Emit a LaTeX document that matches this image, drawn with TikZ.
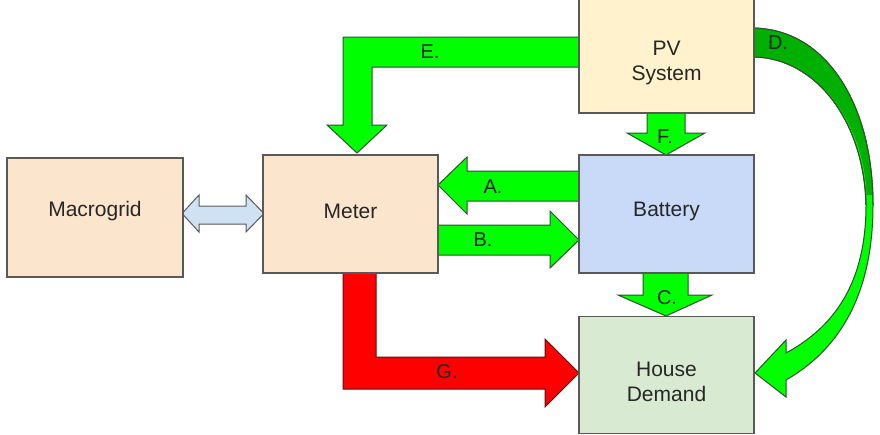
\documentclass[tikz,border=0pt]{standalone}
\usepackage{fontspec}
\setmainfont{Liberation Sans}
\definecolor{peach}{HTML}{FCE5CD}
\definecolor{pvfill}{HTML}{FFF2CC}
\definecolor{batfill}{HTML}{C9DAF8}
\definecolor{housefill}{HTML}{D9EAD3}
\definecolor{boxline}{HTML}{595959}
\definecolor{arrgreen}{HTML}{00FF00}
\definecolor{darkgreen}{HTML}{00B000}
\definecolor{arrline}{HTML}{2F4F2F}
\definecolor{arrred}{HTML}{FF0000}
\definecolor{redline}{HTML}{5A1010}
\definecolor{dblblue}{HTML}{CFE2F3}
\definecolor{txt}{HTML}{262626}
\begin{document}
\begin{tikzpicture}[x=1pt,y=-1pt,
  box/.style={draw=boxline, line width=1.2pt, inner sep=0pt, minimum width=175pt},
  boxtext/.style={text=txt, font=\fontsize{21}{25}\selectfont, align=center, inner sep=0pt},
  garrow/.style={fill=arrgreen, draw=arrline, line width=1pt, line join=miter},
  rarrow/.style={fill=arrred, draw=redline, line width=1pt, line join=miter},
  lbl/.style={font=\fontsize{20}{22}\selectfont, text=txt, inner sep=0pt}]
\useasboundingbox (0,0) rectangle (880,434);
% block arrows
\draw[garrow] (579,37) -- (343,37) -- (343,125) -- (327,125) -- (357,153) -- (387,125) -- (372,125) -- (372,67) -- (579,67) -- cycle;
\draw[garrow] (647,113) -- (647,133) -- (627,133) -- (666,155) -- (705,133) -- (685,133) -- (685,113) -- cycle;
\draw[garrow] (579,171) -- (467,171) -- (467,157) -- (438,185) -- (467,214) -- (467,201) -- (579,201) -- cycle;
\draw[garrow] (438,225) -- (550,225) -- (550,211) -- (579,240) -- (550,268) -- (550,255) -- (438,255) -- cycle;
\draw[garrow] (643,273) -- (643,295) -- (618,295) -- (666,316) -- (712,295) -- (688,295) -- (688,273) -- cycle;
\draw[rarrow] (343,273) -- (343,389) -- (545,389) -- (545,407) -- (579,373) -- (545,339) -- (545,357) -- (376,357) -- (376,273) -- cycle;
\draw[fill=dblblue, draw=boxline, line width=1pt] (182,213.5) -- (199,195) -- (199,206) -- (246,206) -- (246,195) -- (264,213.5) -- (246,232) -- (246,224) -- (199,224) -- (199,232) -- cycle;
% curved arrow D
\draw[garrow] (754,28) .. controls (830,30) and (873,110) .. (873,205)
  .. controls (873,300) and (835,352) .. (786,380)
  -- (786,397) -- (755,373) -- (786,340) -- (786,353)
  .. controls (828,330) and (866,290) .. (866,205)
  .. controls (864,120) and (815,58) .. (754,57) -- cycle;
\fill[darkgreen] (754.5,28.5) .. controls (830,30.5) and (872.5,110) .. (872.5,195)
  -- (866.5,195) .. controls (864,120) and (815,57.5) .. (754.5,56.5) -- cycle;
\draw[arrline, line width=1pt] (754,28) .. controls (830,30) and (873,110) .. (873,205);
\draw[arrline, line width=1pt] (866,205) .. controls (864,120) and (815,58) .. (754,57);
% boxes
\node[box, fill=peach, minimum width=176pt, minimum height=119pt] (macro) at (95,217.5) {};
\node[boxtext] (macrot) at (95,211) {Macrogrid};
\node[box, fill=peach, minimum height=118pt] (meter) at (350.5,214) {};
\node[boxtext] (metert) at (350.5,211) {Meter};
\node[box, fill=pvfill, minimum height=117pt] (pv) at (666.5,54.5) {};
\node[boxtext] (pvt) at (666.5,63) {PV\\System};
\node[box, fill=batfill, minimum height=118pt] (bat) at (666.5,214) {};
\node[boxtext] (batt) at (666.5,211) {Battery};
\node[box, fill=housefill, minimum height=117pt] (house) at (666.5,375) {};
\node[boxtext] (houset) at (666.5,382) {House\\Demand};
% labels
\node[lbl] (le) at (430,52) {E.};
\node[lbl] (ld) at (778,43) {D.};
\node[lbl] (lf) at (665,137) {F.};
\node[lbl] (la) at (493,187) {A.};
\node[lbl] (lb) at (483,240) {B.};
\node[lbl] (lc) at (667,298) {C.};
\node[lbl] (lg) at (447,372) {G.};
\end{tikzpicture}
\end{document}
